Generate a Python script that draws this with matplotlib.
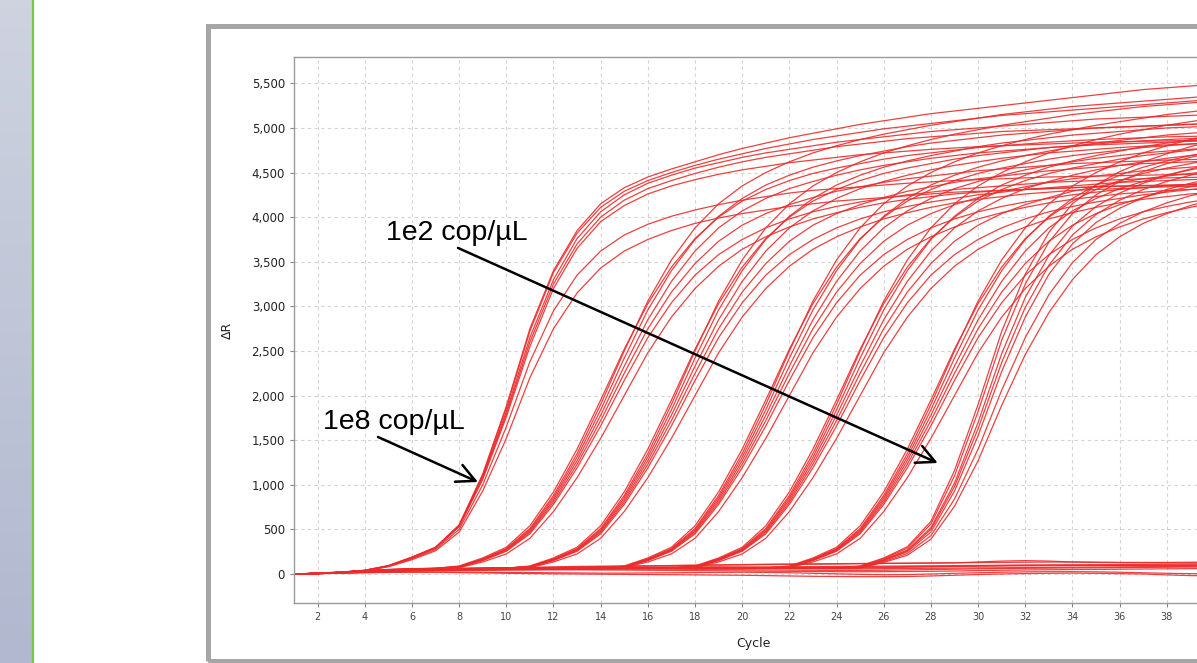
import numpy as np
import matplotlib
matplotlib.use("Agg")
import matplotlib.pyplot as plt
from matplotlib.patches import Rectangle
from matplotlib.lines import Line2D
from matplotlib.colors import LinearSegmentedColormap
from matplotlib.ticker import FuncFormatter, MultipleLocator

# --- data (delta R per cycle 1..40) ---
cycles = np.arange(1, 41)

g_1e8 = [
    [0, 10, 22, 42, 95, 190, 300, 550, 1120, 1880, 2750, 3400, 3850, 4150, 4330, 4450, 4540, 4620, 4700, 4770, 4830, 4890, 4940, 4990, 5040, 5080, 5120, 5160, 5190, 5220, 5250, 5280, 5310, 5340, 5370, 5400, 5430, 5450, 5470, 5490],
    [0, 9, 21, 41, 92, 188, 298, 545, 1110, 1860, 2720, 3380, 3820, 4110, 4290, 4410, 4500, 4580, 4650, 4710, 4770, 4820, 4870, 4910, 4950, 4990, 5020, 5050, 5080, 5110, 5140, 5160, 5180, 5200, 5220, 5240, 5260, 5280, 5300, 5320],
    [0, 9, 21, 40, 90, 185, 295, 540, 1090, 1820, 2650, 3300, 3760, 4060, 4250, 4380, 4470, 4550, 4610, 4670, 4720, 4760, 4800, 4840, 4870, 4900, 4930, 4960, 4980, 5000, 5020, 5040, 5060, 5080, 5100, 5110, 5120, 5130, 5140, 5150],
    [0, 8, 20, 40, 88, 182, 292, 535, 1075, 1790, 2600, 3250, 3700, 4000, 4190, 4320, 4410, 4490, 4560, 4620, 4670, 4710, 4750, 4790, 4820, 4850, 4880, 4900, 4920, 4940, 4960, 4970, 4980, 4990, 5000, 5010, 5020, 5030, 5040, 5050],
    [0, 8, 19, 39, 90, 180, 290, 530, 1060, 1760, 2550, 3200, 3650, 3950, 4130, 4260, 4350, 4420, 4480, 4530, 4570, 4610, 4640, 4670, 4700, 4720, 4740, 4760, 4775, 4790, 4800, 4810, 4820, 4830, 4840, 4845, 4850, 4855, 4860, 4865],
    [0, 7, 18, 37, 85, 170, 275, 500, 1000, 1650, 2380, 2950, 3350, 3620, 3800, 3920, 4010, 4080, 4140, 4190, 4230, 4270, 4300, 4320, 4340, 4360, 4380, 4395, 4410, 4420, 4430, 4440, 4450, 4455, 4460, 4465, 4470, 4475, 4480, 4485],
    [0, 7, 17, 35, 82, 160, 260, 470, 930, 1520, 2200, 2750, 3150, 3430, 3620, 3750, 3850, 3930, 3990, 4040, 4080, 4120, 4150, 4180, 4200, 4220, 4240, 4260, 4280, 4290, 4300, 4310, 4320, 4330, 4340, 4350, 4355, 4360, 4365, 4370],
]
g_1e7 = [
    [0, 8, 20, 38, 51, 59, 65, 85, 170, 285, 510, 880, 1350, 1900, 2500, 3060, 3520, 3880, 4150, 4350, 4500, 4620, 4720, 4800, 4870, 4930, 4980, 5030, 5070, 5110, 5150, 5180, 5210, 5240, 5260, 5280, 5300, 5320, 5340, 5360],
    [0, 8, 20, 38, 50, 58, 64, 82, 165, 278, 495, 855, 1310, 1840, 2420, 2960, 3400, 3750, 4010, 4210, 4360, 4470, 4560, 4630, 4690, 4740, 4790, 4830, 4860, 4890, 4920, 4940, 4960, 4980, 5000, 5010, 5020, 5030, 5040, 5050],
    [0, 7, 19, 37, 49, 57, 63, 90, 180, 300, 540, 920, 1400, 1950, 2520, 3030, 3440, 3760, 4000, 4180, 4310, 4410, 4490, 4550, 4600, 4650, 4690, 4720, 4750, 4780, 4800, 4820, 4840, 4855, 4870, 4880, 4890, 4900, 4905, 4910],
    [0, 7, 19, 36, 48, 56, 62, 80, 160, 270, 480, 830, 1270, 1780, 2330, 2850, 3280, 3620, 3880, 4070, 4210, 4320, 4400, 4470, 4530, 4580, 4620, 4660, 4690, 4720, 4740, 4760, 4780, 4795, 4810, 4820, 4830, 4840, 4850, 4855],
    [0, 7, 18, 35, 46, 54, 60, 78, 155, 262, 465, 805, 1230, 1720, 2250, 2750, 3160, 3480, 3730, 3910, 4040, 4140, 4220, 4290, 4340, 4390, 4430, 4460, 4490, 4520, 4540, 4560, 4580, 4600, 4610, 4620, 4630, 4640, 4645, 4650],
    [0, 6, 17, 34, 45, 52, 58, 75, 150, 255, 450, 780, 1190, 1660, 2170, 2650, 3040, 3350, 3580, 3750, 3880, 3980, 4060, 4120, 4170, 4210, 4250, 4280, 4310, 4330, 4350, 4370, 4390, 4400, 4410, 4420, 4430, 4440, 4445, 4450],
    [0, 6, 16, 33, 44, 51, 57, 70, 135, 225, 400, 700, 1080, 1520, 2000, 2480, 2880, 3200, 3450, 3640, 3780, 3890, 3980, 4050, 4110, 4160, 4200, 4230, 4260, 4280, 4300, 4310, 4320, 4330, 4340, 4345, 4350, 4355, 4360, 4365],
]
g_1e6 = [
    [0, 7, 18, 35, 47, 55, 61, 63, 65, 67, 85, 170, 285, 510, 880, 1350, 1900, 2500, 3060, 3520, 3880, 4150, 4350, 4500, 4620, 4720, 4800, 4870, 4930, 4980, 5030, 5070, 5110, 5150, 5180, 5210, 5240, 5260, 5280, 5300],
    [0, 7, 18, 34, 46, 54, 60, 62, 64, 66, 82, 165, 278, 495, 855, 1310, 1840, 2420, 2960, 3400, 3750, 4010, 4210, 4360, 4470, 4560, 4630, 4690, 4740, 4790, 4830, 4860, 4890, 4920, 4940, 4960, 4980, 5000, 5010, 5020],
    [0, 6, 17, 33, 44, 52, 57, 60, 62, 64, 90, 180, 300, 540, 920, 1400, 1950, 2520, 3030, 3440, 3760, 4000, 4180, 4310, 4410, 4490, 4550, 4600, 4650, 4690, 4720, 4750, 4780, 4800, 4820, 4840, 4855, 4870, 4880, 4890],
    [0, 7, 17, 33, 45, 53, 58, 61, 63, 65, 80, 160, 270, 480, 830, 1270, 1780, 2330, 2850, 3280, 3620, 3880, 4070, 4210, 4320, 4400, 4470, 4530, 4580, 4620, 4660, 4690, 4720, 4740, 4760, 4780, 4795, 4810, 4820, 4830],
    [0, 6, 16, 32, 43, 51, 56, 59, 61, 63, 78, 155, 262, 465, 805, 1230, 1720, 2250, 2750, 3160, 3480, 3730, 3910, 4040, 4140, 4220, 4290, 4340, 4390, 4430, 4460, 4490, 4520, 4540, 4560, 4580, 4600, 4610, 4620, 4630],
    [0, 6, 16, 32, 43, 51, 56, 59, 61, 63, 75, 150, 255, 450, 780, 1190, 1660, 2170, 2650, 3040, 3350, 3580, 3750, 3880, 3980, 4060, 4120, 4170, 4210, 4250, 4280, 4310, 4330, 4350, 4370, 4390, 4400, 4410, 4420, 4430],
    [0, 6, 16, 31, 42, 50, 55, 58, 60, 62, 70, 135, 225, 400, 700, 1080, 1520, 2000, 2480, 2880, 3200, 3450, 3640, 3780, 3890, 3980, 4050, 4110, 4160, 4200, 4230, 4260, 4280, 4300, 4310, 4320, 4330, 4340, 4345, 4350],
]
g_1e5 = [
    [0, 7, 17, 33, 45, 52, 58, 60, 62, 64, 65, 66, 67, 68, 85, 170, 285, 510, 880, 1350, 1900, 2500, 3060, 3520, 3880, 4150, 4350, 4500, 4620, 4720, 4800, 4870, 4930, 4980, 5030, 5070, 5110, 5150, 5180, 5210],
    [0, 7, 17, 33, 45, 52, 58, 60, 62, 64, 65, 66, 67, 68, 82, 165, 278, 495, 855, 1310, 1840, 2420, 2960, 3400, 3750, 4010, 4210, 4360, 4470, 4560, 4630, 4690, 4740, 4790, 4830, 4860, 4890, 4920, 4940, 4960],
    [0, 6, 16, 32, 44, 51, 57, 59, 61, 63, 64, 65, 66, 67, 90, 180, 300, 540, 920, 1400, 1950, 2520, 3030, 3440, 3760, 4000, 4180, 4310, 4410, 4490, 4550, 4600, 4650, 4690, 4720, 4750, 4780, 4800, 4820, 4840],
    [0, 6, 16, 31, 43, 50, 56, 58, 60, 62, 63, 64, 65, 66, 80, 160, 270, 480, 830, 1270, 1780, 2330, 2850, 3280, 3620, 3880, 4070, 4210, 4320, 4400, 4470, 4530, 4580, 4620, 4660, 4690, 4720, 4740, 4760, 4780],
    [0, 6, 16, 31, 43, 50, 56, 58, 60, 62, 63, 64, 65, 66, 78, 155, 262, 465, 805, 1230, 1720, 2250, 2750, 3160, 3480, 3730, 3910, 4040, 4140, 4220, 4290, 4340, 4390, 4430, 4460, 4490, 4520, 4540, 4560, 4580],
    [0, 5, 15, 30, 42, 49, 55, 57, 59, 61, 62, 63, 64, 65, 75, 150, 255, 450, 780, 1190, 1660, 2170, 2650, 3040, 3350, 3580, 3750, 3880, 3980, 4060, 4120, 4170, 4210, 4250, 4280, 4310, 4330, 4350, 4370, 4390],
    [0, 5, 15, 30, 41, 48, 54, 56, 58, 60, 61, 62, 63, 64, 70, 135, 225, 400, 700, 1080, 1520, 2000, 2480, 2880, 3200, 3450, 3640, 3780, 3890, 3980, 4050, 4110, 4160, 4200, 4230, 4260, 4280, 4300, 4310, 4320],
]
g_1e4 = [
    [0, 7, 17, 33, 44, 50, 55, 58, 60, 62, 63, 64, 65, 66, 67, 68, 68, 85, 170, 285, 510, 880, 1350, 1900, 2500, 3060, 3520, 3880, 4150, 4350, 4500, 4620, 4720, 4800, 4870, 4930, 4980, 5030, 5070, 5110],
    [0, 7, 17, 33, 44, 50, 55, 58, 60, 62, 63, 64, 65, 66, 67, 68, 68, 82, 165, 278, 495, 855, 1310, 1840, 2420, 2960, 3400, 3750, 4010, 4210, 4360, 4470, 4560, 4630, 4690, 4740, 4790, 4830, 4860, 4890],
    [0, 6, 16, 31, 42, 48, 53, 56, 58, 60, 61, 62, 63, 64, 65, 66, 66, 90, 180, 300, 540, 920, 1400, 1950, 2520, 3030, 3440, 3760, 4000, 4180, 4310, 4410, 4490, 4550, 4600, 4650, 4690, 4720, 4750, 4780],
    [0, 6, 16, 32, 43, 49, 54, 57, 59, 61, 62, 63, 64, 65, 66, 67, 67, 80, 160, 270, 480, 830, 1270, 1780, 2330, 2850, 3280, 3620, 3880, 4070, 4210, 4320, 4400, 4470, 4530, 4580, 4620, 4660, 4690, 4720],
    [0, 6, 16, 31, 42, 48, 53, 56, 58, 60, 61, 62, 63, 64, 65, 66, 66, 78, 155, 262, 465, 805, 1230, 1720, 2250, 2750, 3160, 3480, 3730, 3910, 4040, 4140, 4220, 4290, 4340, 4390, 4430, 4460, 4490, 4520],
    [0, 5, 15, 30, 41, 47, 52, 55, 57, 59, 60, 61, 62, 63, 64, 65, 65, 75, 150, 255, 450, 780, 1190, 1660, 2170, 2650, 3040, 3350, 3580, 3750, 3880, 3980, 4060, 4120, 4170, 4210, 4250, 4280, 4310, 4330],
    [0, 5, 15, 30, 41, 47, 52, 55, 57, 59, 60, 61, 62, 63, 64, 65, 65, 70, 135, 225, 400, 700, 1080, 1520, 2000, 2480, 2880, 3200, 3450, 3640, 3780, 3890, 3980, 4050, 4110, 4160, 4200, 4230, 4260, 4280],
]
g_1e3 = [
    [0, 7, 17, 32, 43, 50, 55, 58, 60, 61, 62, 63, 64, 65, 66, 67, 67, 68, 68, 68, 68, 85, 170, 285, 510, 880, 1350, 1900, 2500, 3060, 3520, 3880, 4150, 4350, 4500, 4620, 4720, 4800, 4870, 4930],
    [0, 7, 17, 32, 43, 50, 55, 58, 60, 61, 62, 63, 64, 65, 66, 67, 67, 68, 68, 68, 68, 82, 165, 278, 495, 855, 1310, 1840, 2420, 2960, 3400, 3750, 4010, 4210, 4360, 4470, 4560, 4630, 4690, 4740],
    [0, 6, 16, 31, 42, 49, 54, 57, 59, 60, 61, 62, 63, 64, 65, 66, 66, 67, 67, 67, 67, 90, 180, 300, 540, 920, 1400, 1950, 2520, 3030, 3440, 3760, 4000, 4180, 4310, 4410, 4490, 4550, 4600, 4650],
    [0, 6, 15, 30, 41, 48, 53, 56, 58, 59, 60, 61, 62, 63, 64, 65, 65, 66, 66, 66, 66, 80, 160, 270, 480, 830, 1270, 1780, 2330, 2850, 3280, 3620, 3880, 4070, 4210, 4320, 4400, 4470, 4530, 4580],
    [0, 6, 15, 30, 41, 48, 53, 56, 58, 59, 60, 61, 62, 63, 64, 65, 65, 66, 66, 66, 66, 78, 155, 262, 465, 805, 1230, 1720, 2250, 2750, 3160, 3480, 3730, 3910, 4040, 4140, 4220, 4290, 4340, 4390],
    [0, 5, 15, 29, 40, 47, 52, 55, 57, 58, 59, 60, 61, 62, 63, 64, 64, 65, 65, 65, 65, 75, 150, 255, 450, 780, 1190, 1660, 2170, 2650, 3040, 3350, 3580, 3750, 3880, 3980, 4060, 4120, 4170, 4210],
    [0, 5, 14, 28, 39, 46, 51, 54, 56, 57, 58, 59, 60, 61, 62, 63, 63, 64, 64, 64, 64, 70, 135, 225, 400, 700, 1080, 1520, 2000, 2480, 2880, 3200, 3450, 3640, 3780, 3890, 3980, 4050, 4110, 4160],
]
g_1e2 = [
    [0, 7, 16, 31, 42, 49, 54, 57, 59, 60, 61, 62, 63, 64, 65, 65, 66, 66, 67, 67, 67, 68, 68, 68, 90, 180, 305, 590, 1160, 1900, 2720, 3360, 3830, 4150, 4360, 4510, 4620, 4710, 4790, 4860],
    [0, 7, 16, 31, 42, 49, 54, 57, 59, 60, 61, 62, 63, 64, 65, 65, 66, 66, 67, 67, 67, 68, 68, 68, 85, 170, 290, 560, 1100, 1820, 2620, 3250, 3720, 4040, 4250, 4400, 4510, 4600, 4670, 4730],
    [0, 6, 15, 30, 41, 48, 53, 56, 58, 59, 60, 61, 62, 63, 64, 64, 65, 65, 66, 66, 66, 67, 67, 67, 80, 160, 270, 520, 1020, 1700, 2470, 3100, 3570, 3900, 4120, 4270, 4380, 4470, 4540, 4600],
    [0, 6, 15, 30, 41, 48, 53, 56, 58, 59, 60, 61, 62, 63, 64, 64, 65, 65, 66, 66, 66, 67, 67, 67, 78, 155, 260, 500, 980, 1630, 2370, 2990, 3460, 3800, 4030, 4190, 4310, 4400, 4470, 4530],
    [0, 6, 15, 29, 40, 47, 52, 55, 57, 58, 59, 60, 61, 62, 63, 63, 64, 64, 65, 65, 65, 66, 66, 66, 75, 150, 250, 470, 930, 1550, 2270, 2880, 3360, 3700, 3940, 4100, 4220, 4310, 4380, 4440],
    [0, 5, 14, 28, 39, 46, 51, 54, 56, 57, 58, 59, 60, 61, 62, 62, 63, 63, 64, 64, 64, 65, 65, 65, 70, 140, 230, 430, 840, 1400, 2060, 2650, 3130, 3490, 3750, 3930, 4060, 4160, 4240, 4300],
    [0, 5, 14, 28, 39, 46, 51, 54, 56, 57, 58, 59, 60, 61, 62, 62, 63, 63, 64, 64, 64, 65, 65, 65, 66, 130, 210, 390, 760, 1270, 1890, 2460, 2930, 3300, 3580, 3780, 3930, 4040, 4130, 4200],
]
# no-template / flat wells
neg = [
    [0, 8, 18, 30, 40, 48, 55, 60, 65, 70, 75, 80, 85, 88, 90, 92, 95, 98, 100, 102, 105, 108, 110, 112, 115, 118, 120, 122, 125, 135, 145, 150, 145, 135, 130, 128, 126, 125, 124, 124],
    [0, 6, 15, 25, 35, 42, 48, 52, 55, 58, 60, 62, 64, 66, 68, 70, 72, 74, 75, 76, 78, 80, 82, 84, 86, 88, 90, 92, 94, 96, 98, 100, 100, 100, 98, 96, 95, 95, 96, 98],
    [0, 5, 12, 20, 28, 34, 38, 40, 42, 44, 45, 46, 46, 45, 44, 42, 40, 38, 36, 34, 32, 30, 28, 26, 25, 26, 28, 30, 34, 38, 42, 45, 48, 50, 52, 54, 56, 58, 60, 62],
    [0, 4, 10, 16, 20, 22, 20, 16, 12, 8, 5, 2, 0, -2, -4, -6, -8, -10, -12, -14, -18, -22, -26, -28, -30, -30, -28, -22, -14, -6, 0, 5, 8, 10, 8, 4, 0, -10, -18, -20],
    [0, 7, 16, 26, 36, 44, 50, 56, 60, 64, 68, 70, 72, 74, 76, 78, 80, 80, 80, 78, 76, 74, 72, 70, 70, 72, 76, 80, 85, 90, 95, 98, 100, 102, 104, 106, 108, 110, 112, 114],
    [0, 6, 14, 24, 32, 38, 42, 46, 50, 52, 54, 56, 58, 58, 58, 56, 54, 52, 50, 48, 46, 44, 42, 40, 40, 42, 46, 50, 54, 58, 62, 64, 66, 68, 70, 72, 74, 76, 78, 80],
    [0, 7, 17, 28, 38, 46, 52, 58, 62, 66, 70, 74, 78, 82, 86, 90, 94, 98, 102, 106, 110, 112, 114, 116, 118, 120, 122, 124, 126, 128, 130, 132, 134, 134, 132, 130, 130, 130, 132, 134],
    [0, 5, 13, 22, 30, 36, 40, 44, 48, 52, 56, 60, 64, 66, 68, 70, 70, 70, 68, 66, 64, 62, 60, 58, 58, 60, 62, 64, 66, 68, 70, 72, 74, 76, 78, 80, 82, 84, 86, 88],
    [0, 6, 14, 22, 30, 36, 40, 43, 45, 47, 50, 52, 55, 56, 58, 60, 63, 65, 66, 68, 70, 73, 75, 76, 78, 80, 83, 85, 86, 88, 90, 92, 94, 95, 96, 98, 99, 100, 101, 102],
    [0, 4, 9, 14, 18, 20, 22, 22, 20, 18, 16, 14, 12, 10, 10, 12, 14, 16, 18, 20, 18, 14, 8, 2, -4, -8, -6, 0, 8, 14, 20, 24, 26, 26, 24, 20, 14, 8, 4, 2],
]

W, H = 1197, 663
fig = plt.figure(figsize=(W / 100, H / 100), dpi=100)
fig.patch.set_facecolor("white")

# left sidebar with gradient + green separator
side = fig.add_axes([0, 0, 32 / W, 1])
cmap = LinearSegmentedColormap.from_list("side", ["#cfd3e0", "#b1b8cf"])
side.imshow(np.linspace(0, 1, 256)[:, None], cmap=cmap, aspect="auto")
side.axis("off")
fig.add_artist(Line2D([33 / W, 33 / W], [0, 1], transform=fig.transFigure, color="#78c83c", lw=1.6))

# grey window frame
fig.add_artist(Rectangle((207.5 / W, (H - 661) / H), (1240 - 207.5) / W, (661 - 25.5) / H,
                         transform=fig.transFigure, fill=False, edgecolor="#a6a6a6", lw=3.6))

# plot area (runs past the right edge, as in the cropped screenshot)
ax = fig.add_axes([294 / W, (H - 603) / H, (1214 - 294) / W, (603 - 57) / H])

red = "#ec2b2b"
for grp in [neg, g_1e8, g_1e7, g_1e6, g_1e5, g_1e4, g_1e3, g_1e2]:
    for vals in grp:
        ax.plot(cycles, vals, color=red, lw=0.9, alpha=0.9)

ax.set_xlim(1, 40)
ax.set_ylim(-325, 5795)
ax.set_xticks(range(2, 39, 2))
ax.yaxis.set_major_locator(MultipleLocator(500))
ax.yaxis.set_major_formatter(FuncFormatter(lambda v, p: f"{int(v):,}"))
ax.tick_params(axis="y", labelsize=8.5, labelcolor="#222222", color="#888888", length=3)
ax.tick_params(axis="x", labelsize=7, labelcolor="#444444", color="#888888", length=3)
ax.grid(True, color="#d4d4d4", linestyle=(0, (3, 3)), lw=0.8)
ax.set_axisbelow(True)
for s in ax.spines.values():
    s.set_color("#9a9a9a")
    s.set_linewidth(1)

ax.set_ylabel("ΔR", fontsize=9, color="#222222")
ax.yaxis.set_label_coords(-0.065, 0.5)
ax.set_xlabel("Cycle", fontsize=9, color="#222222")
ax.xaxis.set_label_coords(0.499, -0.062)

# annotations
ax.text(4.9, 3744, "1e2 cop/µL", fontsize=20.5, family="Liberation Sans", ha="left", va="baseline")
ax.text(2.23, 1626, "1e8 cop/µL", fontsize=20.5, family="Liberation Sans", ha="left", va="baseline")
arrow = dict(arrowstyle="->,head_length=0.6,head_width=0.3", color="black", lw=1.8,
             mutation_scale=22, shrinkA=0, shrinkB=0)
ax.annotate("", xy=(28.29, 1244), xytext=(7.95, 3655), arrowprops=arrow)
ax.annotate("", xy=(8.8, 1031), xytext=(4.56, 1536), arrowprops=arrow)

fig.savefig("out.png", dpi=100)
